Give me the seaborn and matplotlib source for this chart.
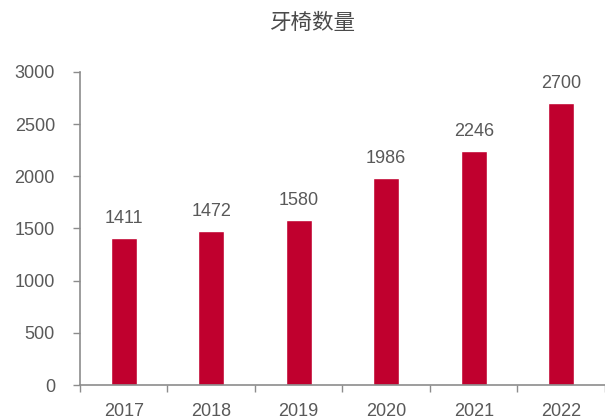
import matplotlib
matplotlib.use("Agg")
import matplotlib.pyplot as plt
import seaborn as sns
import pandas as pd

years = ["2017", "2018", "2019", "2020", "2021", "2022"]
chairs = [1411, 1472, 1580, 1986, 2246, 2700]
title = "牙椅数量"

sns.set_theme(style="white")
plt.rcParams["font.family"] = ["Liberation Sans", "Noto Sans CJK SC", "DejaVu Sans"]

bar_color = "#C0002E"
text_color = "#595959"
axis_color = "#8C8C8C"

df = pd.DataFrame({"year": years, "chairs": chairs})

fig = plt.figure(figsize=(6.05, 4.18), dpi=100)
ax = fig.add_axes([0.1322, 0.0789, 0.8678, 0.749])

sns.barplot(data=df, x="year", y="chairs", color=bar_color, width=0.30,
            saturation=1, ax=ax)

ax.set_ylim(0, 3000)
ax.set_xlim(-0.5, 5.5)
ax.set_yticks(range(0, 3001, 500))
ax.set_xlabel("")
ax.set_ylabel("")

# category boundaries as tick marks, labels centred under bars
ax.set_xticks([i - 0.5 for i in range(len(years) + 1)])
ax.set_xticklabels([])
ax.set_xticks(range(len(years)), minor=True)
ax.set_xticklabels(years, minor=True)
ax.tick_params(axis="x", which="major", direction="out", length=5,
               width=1, color=axis_color, bottom=True)
ax.tick_params(axis="x", which="minor", length=0, pad=13,
               labelsize=13, labelcolor=text_color)
ax.tick_params(axis="y", direction="out", length=5, width=1,
               color=axis_color, left=True, labelsize=13,
               labelcolor=text_color, pad=13)

for side in ["top", "right"]:
    ax.spines[side].set_visible(False)
for side in ["left", "bottom"]:
    ax.spines[side].set_color(axis_color)
    ax.spines[side].set_linewidth(1.2)

for container in ax.containers:
    ax.bar_label(container, labels=[str(v) for v in chairs], padding=8,
                 fontsize=13, color=text_color)

fig.text(0.5165, 0.945, title, ha="center", va="center", fontsize=15.5,
         color="#4A4A4A", family=["Noto Sans CJK SC", "DejaVu Sans"])

fig.savefig("out.png", dpi=100, facecolor="white")
